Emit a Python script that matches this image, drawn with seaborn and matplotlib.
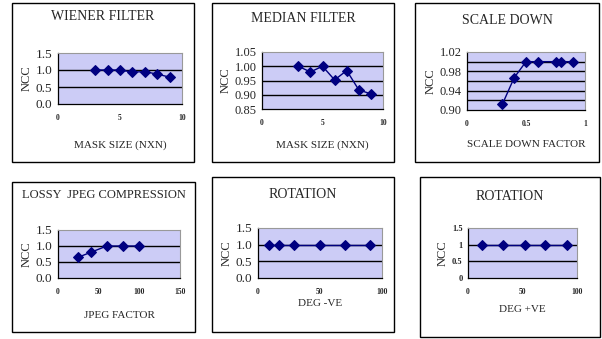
import numpy as np
import pandas as pd
import matplotlib
matplotlib.use("Agg")
import matplotlib.pyplot as plt
import seaborn as sns
from matplotlib.patches import Rectangle

W, H = 602, 339

# data
wiener_x = [3, 4, 5, 6, 7, 8, 9]
wiener_y = [1.0, 1.0, 1.0, 0.94, 0.95, 0.88, 0.79]

median_x = [3, 4, 5, 6, 7, 8, 9]
median_y = [1.00, 0.98, 1.00, 0.952, 0.985, 0.917, 0.903]

scale_x = [0.3, 0.4, 0.5, 0.6, 0.75, 0.8, 0.9]
scale_y = [0.912, 0.967, 1.0, 1.0, 1.0, 1.0, 1.0]

jpeg_x = [25, 40, 60, 80, 100]
jpeg_y = [0.65, 0.8, 1.0, 1.0, 1.0]

rot_neg_x = [9, 17, 29, 50, 70, 90]
rot_neg_y = [1.0, 1.0, 1.0, 1.0, 1.0, 1.0]

rot_pos_x = [13, 32, 52, 71, 91]
rot_pos_y = [1.0, 1.0, 1.0, 1.0, 1.0]

sns.set_theme(style="white")
plt.rcParams['font.family'] = ['Liberation Serif', 'DejaVu Serif']

NAVY = "#000080"
BG = "#CCCCF6"

fig = plt.figure(figsize=(W / 100, H / 100), dpi=100)
fig.patch.set_facecolor("white")


def px_rect(l, t, r, b):
    return [l / W, 1 - b / H, (r - l) / W, (b - t) / H]


panels = [
    dict(box=(12, 3, 194, 162), ax=(58, 53, 182, 104), title="WIENER FILTER", ty=16, tfs=10,
         xlabel="MASK SIZE (NXN)", xly=145, x=wiener_x, y=wiener_y,
         xlim=(0, 10), xticks=[0, 5, 10], xtl=["0", "5", "10"],
         ylim=(0, 1.5), yticks=[0, 0.5, 1.0, 1.5], ytl=["0.0", "0.5", "1.0", "1.5"],
         grid=[0.5, 1.0], ytfs=9.5, ytw="normal"),
    dict(box=(212, 3, 394, 162), ax=(262, 52, 383, 109), title="MEDIAN FILTER", ty=18, tfs=10,
         xlabel="MASK SIZE (NXN)", xly=145, x=median_x, y=median_y,
         xlim=(0, 10), xticks=[0, 5, 10], xtl=["0", "5", "10"],
         ylim=(0.85, 1.05), yticks=[0.85, 0.9, 0.95, 1.0, 1.05],
         ytl=["0.85", "0.90", "0.95", "1.00", "1.05"], grid=[0.9, 0.95, 1.0],
         ytfs=9, ytw="normal"),
    dict(box=(415, 3, 599, 162), ax=(467, 52, 585, 110), title="SCALE DOWN", ty=21, tfs=10,
         xlabel="SCALE DOWN FACTOR", xly=145, x=scale_x, y=scale_y,
         xlim=(0, 1), xticks=[0, 0.5, 1], xtl=["0", "0.5", "1"],
         ylim=(0.90, 1.02), yticks=[0.90, 0.94, 0.98, 1.02],
         ytl=["0.90", "0.94", "0.98", "1.02"], grid=[0.92, 0.94, 0.96, 0.98, 1.0],
         ytfs=9, ytw="normal"),
    dict(box=(12, 182, 195, 332), ax=(58, 230, 180, 278), title="LOSSY  JPEG COMPRESSION",
         ty=195, tfs=9, xlabel="JPEG FACTOR", xly=315, x=jpeg_x, y=jpeg_y,
         xlim=(0, 150), xticks=[0, 50, 100, 150], xtl=["0", "50", "100", "150"],
         ylim=(0, 1.5), yticks=[0, 0.5, 1.0, 1.5], ytl=["0.0", "0.5", "1.0", "1.5"],
         grid=[0.5, 1.0], ytfs=9.5, ytw="normal"),
    dict(box=(212, 177, 394, 332), ax=(258, 228, 382, 278), title="ROTATION", ty=195, tfs=10,
         xlabel="DEG -VE", xly=303, x=rot_neg_x, y=rot_neg_y,
         xlim=(0, 100), xticks=[0, 50, 100], xtl=["0", "50", "100"],
         ylim=(0, 1.5), yticks=[0, 0.5, 1.0, 1.5], ytl=["0.0", "0.5", "1.0", "1.5"],
         grid=[0.5, 1.0], ytfs=9.5, ytw="normal"),
    dict(box=(420, 177, 600, 337), ax=(468, 228, 577, 278), title="ROTATION", ty=197, tfs=10,
         xlabel="DEG +VE", xly=310, x=rot_pos_x, y=rot_pos_y,
         xlim=(0, 100), xticks=[0, 50, 100], xtl=["0", "50", "100"],
         ylim=(0, 1.5), yticks=[0, 0.5, 1, 1.5], ytl=["0", "0.5", "1", "1.5"],
         grid=[0.5, 1.0], ytfs=6, ytw="bold"),
]

for p in panels:
    l, t, r, b = p["box"]
    fig.patches.append(Rectangle((l / W, 1 - b / H), (r - l) / W, (b - t) / H,
                                 transform=fig.transFigure, fill=False,
                                 edgecolor="black", linewidth=1.0))
    ax = fig.add_axes(px_rect(*p["ax"]))
    ax.set_facecolor(BG)
    for yv in p["grid"]:
        ax.axhline(yv, color="black", linewidth=1.0, zorder=1)
    df = pd.DataFrame({"x": p["x"], "y": p["y"]})
    sns.lineplot(data=df, x="x", y="y", ax=ax, color=NAVY, linewidth=1.0,
                 marker="D", markersize=5, markeredgecolor=NAVY,
                 markerfacecolor=NAVY, zorder=3)
    ax.set_xlim(*p["xlim"])
    ax.set_ylim(*p["ylim"])
    ax.set_xticks(p["xticks"])
    ax.set_xticklabels(p["xtl"], fontsize=5.5, fontweight="bold")
    ax.set_yticks(p["yticks"])
    ax.set_yticklabels(p["ytl"], fontsize=p["ytfs"], fontweight=p["ytw"])
    ax.tick_params(axis="both", direction="out", length=3, width=0.8,
                   color="black", pad=1)
    ax.tick_params(axis="x", pad=4)
    ax.set_xlabel("")
    ax.set_ylabel("NCC", fontsize=9, labelpad=2)
    for side in ["top", "right"]:
        ax.spines[side].set_color("#999999")
        ax.spines[side].set_linewidth(0.8)
    for side in ["left", "bottom"]:
        ax.spines[side].set_color("black")
        ax.spines[side].set_linewidth(0.9)
    cx = (l + r) / 2 / W
    fig.text(cx, 1 - p["ty"] / H, p["title"], ha="center", va="center", fontsize=p["tfs"])
    axl, _, axr, _ = p["ax"]
    fig.text((axl + axr) / 2 / W, 1 - p["xly"] / H, p["xlabel"], ha="center",
             va="center", fontsize=8)

fig.savefig("out.png", dpi=100)
